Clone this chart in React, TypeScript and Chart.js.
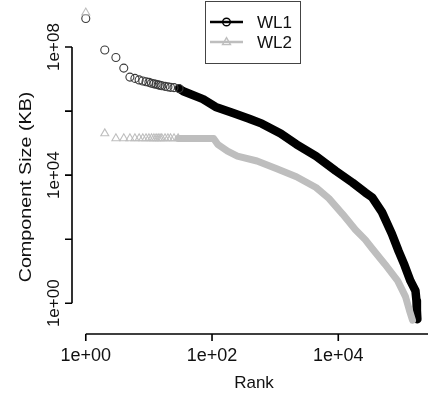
import React, { useEffect, useRef } from "react";
import { Chart, registerables } from "chart.js";

Chart.register(...registerables);

// ---- data (rank vs component size in KB) ----
const WL1_RANK = [
  1, 2, 3, 4, 5, 6, 7, 8, 9, 10, 11, 12, 13, 14, 15, 16, 18, 20, 22, 25, 30,
  35, 60, 72, 114, 210, 387, 617, 1220, 2170, 4440, 9110, 16800, 26700, 34400,
  49200, 70500, 90600, 112000, 139000, 167000, 173000, 176000, 179000,
];
const WL1_SIZE = [
  7.8e8, 8.1e7, 4.7e7, 2.2e7, 1.15e7, 1.05e7, 9.4e6, 8.7e6, 8.2e6, 7.9e6, 7.4e6,
  7.1e6, 6.9e6, 6.6e6, 6.4e6, 6.2e6, 5.9e6, 5.7e6, 5.5e6, 5.4e6, 5.1e6,
  4.17e6, 2.73e6, 2.37e6, 1.35e6, 8.82e5, 5.77e5, 4.05e5, 2.0e5, 9.19e4, 3.93e4,
  1.36e4, 5840, 2880, 2020, 700, 148, 41.5, 15.4, 4.97, 2.45, 1.21, 0.597, 0.316,
];
const WL2_RANK = [
  1, 2, 3, 4, 5, 6, 7, 8, 9, 10, 11, 12, 13, 14, 15, 16, 18, 20, 22, 25, 29,
  106, 123, 176, 252, 516, 1060, 2170, 4440, 7090, 11700, 18700, 26700, 34400,
  54800, 87400, 116000, 134000, 150000,
];
const WL2_SIZE = [
  1.19e9, 2.0e5, 1.4e5, 1.4e5, 1.4e5, 1.4e5, 1.4e5, 1.4e5, 1.4e5, 1.4e5, 1.4e5,
  1.4e5, 1.4e5, 1.4e5, 1.4e5, 1.4e5, 1.4e5, 1.4e5, 1.4e5, 1.4e5, 1.4e5,
  1.4e5, 9.19e4, 5.6e4, 3.93e4, 2.76e4, 1.57e4, 8920, 4100, 1880, 608, 196,
  96.8, 51.2, 16.5, 4.97, 1.61, 0.597, 0.294,
];
// number of leading points that are drawn as separate markers
const WL1_HEAD = 21;
const WL2_HEAD = 21;

const SERIES_NAMES = ["WL1", "WL2"];
const X_TICKS = [1, 100, 10000];
const X_TICK_LABELS = ["1e+00", "1e+02", "1e+04"];
const Y_TICKS = [1, 100, 1e4, 1e6, 1e8];
const Y_TICK_LABELS = ["1e+00", "", "1e+04", "", "1e+08"];
const X_TITLE = "Rank";
const Y_TITLE = "Component Size (KB)";

const X_MIN = 0.605;
const X_MAX = 214300;
const Y_MIN = 0.1094;
const Y_MAX = 1.954e9;

const BLACK = "#000000";
const MARKER_BLACK = "#3a3a3a";
const GRAY = "#BEBEBE";
const FONT = '"Liberation Sans", Arial, Helvetica, sans-serif';

const rStylePlugin = {
  id: "rStyle",
  afterDatasetsDraw(chart: any) {
    const ctx: CanvasRenderingContext2D = chart.ctx;
    const xs = chart.scales.x;
    const ys = chart.scales.y;
    const area = chart.chartArea;
    ctx.save();
    ctx.strokeStyle = "#000";
    ctx.fillStyle = "#111";
    ctx.lineWidth = 1.6;
    ctx.lineCap = "butt";

    // x axis
    const yAx = area.bottom;
    ctx.beginPath();
    ctx.moveTo(xs.getPixelForValue(X_TICKS[0]), yAx);
    ctx.lineTo(chart.width, yAx);
    X_TICKS.forEach((v) => {
      const px = xs.getPixelForValue(v);
      ctx.moveTo(px, yAx);
      ctx.lineTo(px, yAx + 7);
    });
    ctx.stroke();
    ctx.font = "18px " + FONT;
    ctx.textAlign = "center";
    ctx.textBaseline = "middle";
    X_TICKS.forEach((v, i) => {
      ctx.fillText(X_TICK_LABELS[i], xs.getPixelForValue(v), yAx + 22);
    });
    ctx.font = "17px " + FONT;
    ctx.fillText(X_TITLE, 254, yAx + 49);

    // y axis
    const xAx = area.left;
    ctx.beginPath();
    ctx.moveTo(xAx, ys.getPixelForValue(Y_TICKS[0]));
    ctx.lineTo(xAx, ys.getPixelForValue(Y_TICKS[Y_TICKS.length - 1]));
    Y_TICKS.forEach((v) => {
      const py = ys.getPixelForValue(v);
      ctx.moveTo(xAx, py);
      ctx.lineTo(xAx - 7, py);
    });
    ctx.stroke();
    ctx.font = "17px " + FONT;
    Y_TICKS.forEach((v, i) => {
      if (!Y_TICK_LABELS[i]) return;
      ctx.save();
      ctx.translate(xAx - 18, ys.getPixelForValue(v));
      ctx.rotate(-Math.PI / 2);
      ctx.fillText(Y_TICK_LABELS[i], 0, 0);
      ctx.restore();
    });
    ctx.save();
    ctx.translate(26, 187);
    ctx.rotate(-Math.PI / 2);
    ctx.scale(1.16, 1);
    ctx.font = "17px " + FONT;
    ctx.fillText(Y_TITLE, 0, 0);
    ctx.restore();

    // legend box
    ctx.lineWidth = 1;
    ctx.strokeStyle = "#444";
    ctx.strokeRect(205.5, 1.5, 95, 62);
    const rows = [22, 42];
    chart.data.datasets.forEach((ds: any, i: number) => {
      const y = rows[i];
      ctx.strokeStyle = ds.borderColor;
      ctx.lineWidth = 2.4;
      ctx.beginPath();
      ctx.moveTo(210, y);
      ctx.lineTo(243, y);
      ctx.stroke();
      ctx.lineWidth = 1.4;
      ctx.beginPath();
      if (ds.pointStyle === "triangle") {
        const r = 4.4;
        ctx.moveTo(226.5, y - r);
        ctx.lineTo(226.5 + r * 0.9, y + r * 0.6);
        ctx.lineTo(226.5 - r * 0.9, y + r * 0.6);
        ctx.closePath();
      } else {
        ctx.arc(226.5, y, 3.8, 0, Math.PI * 2);
      }
      ctx.stroke();
      ctx.fillStyle = "#111";
      ctx.font = "17px " + FONT;
      ctx.textAlign = "left";
      ctx.textBaseline = "middle";
      ctx.fillText(ds.label, 257, y + 1);
    });
    ctx.restore();
  },
};

export default function App() {
  const ref = useRef<HTMLCanvasElement | null>(null);

  useEffect(() => {
    if (!ref.current) return;
    const chart = new Chart(ref.current, {
      type: "scatter",
      data: {
        datasets: [
          {
            label: SERIES_NAMES[0],
            data: WL1_RANK.map((r, i) => ({ x: r, y: WL1_SIZE[i] })),
            showLine: true,
            borderColor: BLACK,
            borderWidth: 8.5,
            borderCapStyle: "round",
            borderJoinStyle: "round",
            pointStyle: "circle",
            pointRadius: WL1_RANK.map((_, i) => (i < WL1_HEAD ? 4 : 0)),
            pointBorderWidth: 1.1,
            pointBorderColor: MARKER_BLACK,
            pointBackgroundColor: "rgba(0,0,0,0)",
            segment: {
              borderColor: (c: any) =>
                c.p0DataIndex < WL1_HEAD - 1 ? "rgba(0,0,0,0)" : BLACK,
            },
            clip: false,
            order: 1,
          } as any,
          {
            label: SERIES_NAMES[1],
            data: WL2_RANK.map((r, i) => ({ x: r, y: WL2_SIZE[i] })),
            showLine: true,
            borderColor: GRAY,
            borderWidth: 7,
            borderCapStyle: "round",
            borderJoinStyle: "round",
            pointStyle: "triangle",
            pointRadius: WL2_RANK.map((_, i) => (i < WL2_HEAD ? 4.6 : 0)),
            pointBorderWidth: 1.1,
            pointBorderColor: GRAY,
            pointBackgroundColor: "rgba(0,0,0,0)",
            segment: {
              borderColor: (c: any) =>
                c.p0DataIndex < WL2_HEAD - 1 ? "rgba(0,0,0,0)" : GRAY,
            },
            clip: false,
            order: 0,
          } as any,
        ],
      },
      options: {
        animation: false,
        responsive: false,
        devicePixelRatio: 1,
        layout: { padding: { left: 72, top: 0, right: 0, bottom: 62 } },
        scales: {
          x: { type: "logarithmic", min: X_MIN, max: X_MAX, display: false, bounds: "data" },
          y: { type: "logarithmic", min: Y_MIN, max: Y_MAX, display: false, bounds: "data" },
        },
        plugins: { legend: { display: false }, tooltip: { enabled: false } },
      },
      plugins: [rStylePlugin],
    });
    return () => chart.destroy();
  }, []);

  return (
    <div
      style={{
        position: "fixed",
        left: 0,
        top: 0,
        width: 428,
        height: 396,
        background: "#fff",
      }}
    >
      <canvas ref={ref} width={428} height={396} style={{ width: 428, height: 396 }} />
    </div>
  );
}
